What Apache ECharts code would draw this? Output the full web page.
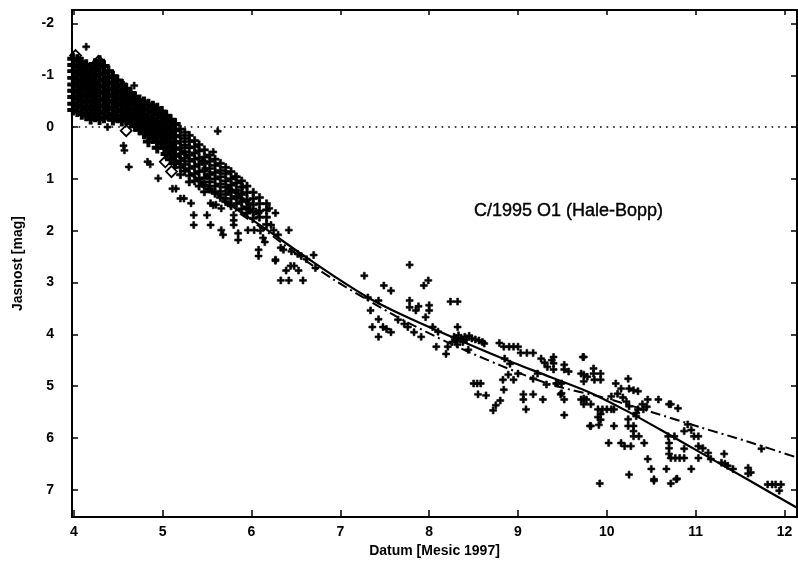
<!DOCTYPE html>
<html>
<head>
<meta charset="utf-8">
<script src="https://cdn.jsdelivr.net/npm/echarts@6/dist/echarts.min.js"></script>
<style>
html,body{margin:0;padding:0;background:#fff;}
#chart{width:798px;height:563px;}
</style>
</head>
<body>
<div id="chart"></div>
<script>
// ---- Data ----
const xTicks = [4, 5, 6, 7, 8, 9, 10, 11, 12];
const yTicks = [-2, -1, 0, 1, 2, 3, 4, 5, 6, 7];

// dense April observations (date in months of 1997, magnitude), listed by date column
const blobColumns = [
  [3.99, [-1.32,-1.2,-1.08,-0.95,-0.82,-0.7,-0.58,-0.45,-0.33]],
  [4.04, [-1.3,-1.18,-1.05,-0.92,-0.8,-0.68,-0.55,-0.42,-0.3]],
  [4.09, [-1.25,-1.12,-1.0,-0.88,-0.75,-0.62,-0.5,-0.38,-0.25]],
  [4.14, [-1.2,-1.08,-0.96,-0.84,-0.72,-0.6,-0.48,-0.35,-0.22]],
  [4.19, [-1.15,-1.02,-0.9,-0.78,-0.65,-0.52,-0.4,-0.28,-0.16]],
  [4.24, [-1.22,-1.1,-0.98,-0.85,-0.72,-0.6,-0.47,-0.35,-0.2]],
  [4.29, [-1.28,-1.15,-1.02,-0.9,-0.78,-0.65,-0.52,-0.4,-0.27,-0.15]],
  [4.34, [-1.18,-1.05,-0.92,-0.8,-0.68,-0.55,-0.42,-0.3,-0.18]],
  [4.39, [-1.08,-0.96,-0.84,-0.72,-0.6,-0.48,-0.35,-0.22]],
  [4.44, [-0.98,-0.86,-0.74,-0.62,-0.5,-0.38,-0.25,-0.14]],
  [4.49, [-0.9,-0.78,-0.66,-0.54,-0.42,-0.3,-0.18]],
  [4.54, [-0.82,-0.7,-0.58,-0.46,-0.34,-0.22,-0.12]],
  [4.59, [-0.74,-0.62,-0.5,-0.38,-0.26,-0.14]],
  [4.64, [-0.66,-0.55,-0.44,-0.32,-0.2,-0.08]],
  [4.69, [-0.58,-0.47,-0.36,-0.25,-0.14,-0.02]],
  [4.74, [-0.52,-0.41,-0.3,-0.18,-0.06,0.05]],
  [4.79, [-0.48,-0.36,-0.24,-0.12,0.0,0.12]],
  [4.84, [-0.44,-0.32,-0.2,-0.08,0.04,0.16,0.28]],
  [4.89, [-0.4,-0.28,-0.15,-0.02,0.1,0.22]],
  [4.94, [-0.36,-0.24,-0.1,0.02,0.15,0.28,0.4]],
  [4.99, [-0.3,-0.18,-0.05,0.08,0.2,0.32]],
  [5.04, [-0.22,-0.1,0.03,0.16,0.28,0.4,0.52]],
  [5.09, [-0.14,-0.02,0.1,0.22,0.35,0.48,0.62]],
  [5.14, [-0.06,0.06,0.18,0.3,0.42,0.55,0.7]]
];
// May observations along the band
const bandColumns = [
  [5.20, [0.04,0.16,0.28,0.4,0.52,0.65,0.78,0.92]],
  [5.25, [0.1,0.22,0.35,0.48,0.6,0.72,0.85]],
  [5.30, [0.16,0.28,0.4,0.54,0.66,0.8,0.94,1.06]],
  [5.36, [0.26,0.38,0.5,0.62,0.76,0.9,1.04]],
  [5.41, [0.34,0.46,0.6,0.72,0.86,1.0,1.14]],
  [5.47, [0.44,0.58,0.7,0.84,0.98,1.12,1.25]],
  [5.53, [0.54,0.66,0.8,0.92,1.06,1.2]],
  [5.59, [0.62,0.74,0.88,1.0,1.14,1.28]],
  [5.65, [0.7,0.84,0.96,1.1,1.24,1.36]],
  [5.71, [0.78,0.9,1.04,1.16,1.3,1.44]],
  [5.77, [0.86,1.0,1.12,1.26,1.38,1.52]],
  [5.83, [0.96,1.08,1.22,1.34,1.48]],
  [5.89, [1.04,1.16,1.3,1.44,1.58]],
  [5.95, [1.14,1.26,1.4,1.54,1.66]],
  [6.02, [1.26,1.38,1.5,1.64,1.76]],
  [6.09, [1.36,1.48,1.62,1.74]],
  [6.17, [1.48,1.6,1.74,1.88]]
];

const scatterPoints = [
  [4.14,-1.55],[4.56,-0.82],[4.68,-0.8],[4.38,0.0],[4.56,0.36],[4.57,0.45],[4.62,0.77],
  [4.83,0.67],[4.86,0.72],[4.95,0.99],[5.62,0.08],[5.57,0.48],[5.82,0.96],[5.9,1.15],
  [5.11,1.19],[5.2,1.38],[5.32,1.47],[5.35,1.7],[5.57,1.51],[5.75,1.19],[5.88,1.38],
  [5.96,1.57],[6.08,1.66],[5.54,1.89],[5.35,1.89],[5.15,1.19],[5.24,1.38],
  [5.45,0.65],[5.48,0.8],[5.5,0.95],[5.45,1.1],[5.52,1.19],[5.77,1.22],[5.85,1.28],
  [5.54,1.47],[5.6,1.5],[5.66,1.57],[5.97,1.47],[5.97,1.6],[6.05,1.63],[6.2,1.57],
  [6.27,1.66],[5.5,1.7],[5.8,1.7],[5.8,1.8],[5.8,1.89],[5.66,1.99],[5.68,2.08],
  [5.85,2.05],[5.85,2.18],[5.96,1.99],[6.03,1.99],[6.22,1.89],[6.25,1.99],[6.42,1.99],
  [6.3,2.08],[6.08,2.37],[6.08,2.49],[6.27,2.58],[6.39,2.77],[6.48,2.68],[6.53,2.77],
  [6.7,2.47],[6.56,2.49],[6.33,2.96],[6.42,2.96],[6.58,2.96],[6.36,2.37],[6.45,2.4],
  [6.52,2.45],[6.13,2.14],[6.15,2.22],[6.1,2.0],[6.27,2.56],[6.72,2.72],[6.44,2.68],
  [6.33,2.33],[6.62,2.55],
  [7.27,2.87],[7.49,3.06],[7.57,3.16],[7.78,2.66],[7.99,2.96],[7.94,3.06],
  [7.78,3.35],[7.78,3.48],[7.85,3.54],[7.88,3.46],[8.0,3.44],[8.0,3.54],[8.24,3.37],
  [8.32,3.37],[7.96,3.67],[8.04,3.86],[7.43,3.35],[7.34,3.54],[7.31,3.29],[7.43,3.71],
  [7.36,3.86],[7.48,3.86],[7.52,3.9],[7.57,3.96],[7.43,4.05],[7.76,3.86],[7.83,3.96],
  [7.91,4.05],[8.08,4.24],[8.19,4.38],[8.21,4.24],[7.65,3.72],[7.72,3.8],[8.1,3.95],
  [8.28,4.05],[8.3,4.12],[8.33,4.02],[8.36,4.08],[8.38,4.15],[8.4,4.05],[8.42,4.1],
  [8.45,4.03],[8.48,4.08],[8.52,4.1],[8.56,4.12],[8.6,4.15],[8.62,4.18],[8.32,4.2],
  [8.26,4.15],[8.32,3.86],[8.44,4.3],[8.79,4.17],[8.84,4.24],[8.9,4.24],[8.95,4.24],
  [9.0,4.24],[9.03,4.36],[9.1,4.36],[9.17,4.36],[8.85,4.47],[8.91,4.57],[9.26,4.47],
  [9.3,4.55],[9.33,4.63],[9.38,4.5],[9.52,4.59],[9.74,4.44],[9.71,4.76],[9.78,4.82],
  [9.86,4.88],[9.57,4.72],[9.0,4.76],[8.89,4.78],[8.95,4.88],[8.83,4.88],[9.17,4.86],
  [9.22,4.76],[9.32,4.97],[9.45,4.95],[8.5,4.95],[8.54,4.95],[8.58,4.95],[8.55,5.16],
  [8.64,5.18],[8.84,5.07],[9.06,5.16],[9.06,5.26],[9.17,5.16],[9.28,5.26],[9.48,5.16],
  [9.52,5.26],[8.8,5.28],[8.75,5.37],[8.72,5.47],[9.09,5.45],[9.52,5.56],[9.71,5.26],
  [9.77,5.26],[9.82,5.35],[9.81,5.77],[9.9,5.6],[9.91,5.75],
  [9.4,4.44],[9.4,4.56],[9.4,4.68],[9.52,4.68],[9.73,4.44],[9.85,4.66],[9.85,4.76],
  [9.74,4.78],[9.74,4.91],[9.93,4.76],[9.93,4.88],[10.24,4.86],[10.1,4.95],[10.16,5.05],
  [10.25,5.05],[10.3,5.08],[10.35,5.1],[10.46,5.26],[10.58,5.26],[10.72,5.35],[9.43,4.95],
  [9.49,4.95],[9.49,5.14],[9.74,5.24],[9.74,5.35],[9.9,5.45],[9.95,5.45],
  [10.0,5.45],[10.05,5.45],[10.08,5.45],[9.93,5.54],[9.93,5.65],[9.82,5.77],
  [10.08,5.77],[10.02,6.1],[10.16,6.1],[10.2,6.16],[10.27,6.16],[10.24,5.64],[10.24,5.77],
  [10.3,5.77],[10.3,5.87],[10.3,5.97],[10.36,5.97],[10.33,5.52],[10.33,5.58],[10.25,5.39],
  [10.35,5.45],[10.41,5.45],[10.46,6.41],[10.5,6.6],[10.53,6.8],[10.67,6.6],[10.72,6.88],
  [10.79,6.79],[9.92,6.88],[10.25,6.71],[10.42,6.1],[10.69,5.97],[10.76,5.97],[10.7,6.1],
  [10.7,6.2],[10.7,6.31],[10.72,6.39],[10.77,6.39],[10.82,6.39],[10.87,6.39],[10.87,6.21],
  [10.95,6.6],[11.03,6.39],[11.08,6.2],[11.14,6.29],[11.03,6.16],[11.17,6.41],[11.32,6.31],
  [11.29,6.48],[11.33,6.5],[11.36,6.54],[11.42,6.6],[11.59,6.58],[11.59,6.69],[11.62,6.67],
  [10.91,5.74],[10.95,5.85],[10.98,5.97],[11.03,5.97],[10.87,5.87],[10.7,5.35],[10.8,5.43],
  [11.81,6.9],[11.86,6.9],[11.9,6.9],[11.96,6.9],[11.94,7.02],[11.74,6.21],[10.53,6.83],
  [10.78,6.8],[10.12,5.15],[10.18,5.22],[10.22,5.3],[10.05,5.2],[10.4,5.35],[10.45,5.4]
];

const diamondPoints = [
  [4.02,-1.38],[4.28,-1.27],[4.64,-0.57],[4.9,-0.34],[4.59,0.07],[5.03,0.67],[5.1,0.86],
  [5.22,0.55],[4.05,-0.9],[4.45,-0.55],[4.75,-0.25],[5.0,0.1],[5.15,0.35]
];

const fitSolid = [
  [5.0,0.42],[5.2,0.72],[5.43,1.05],[5.77,1.51],[6.18,1.99],[6.56,2.45],[6.93,2.88],
  [7.3,3.28],[7.7,3.63],[8.25,4.05],[8.8,4.45],[9.37,4.83],[9.8,5.12],[10.2,5.46],
  [10.6,5.84],[11.06,6.29],[11.6,6.82],[12.14,7.35]
];
const fitDashDot = [
  [5.0,0.45],[5.43,1.08],[5.77,1.55],[6.18,2.03],[6.56,2.52],[6.93,2.95],[7.3,3.33],
  [7.7,3.72],[8.25,4.19],[8.8,4.6],[9.37,4.97],[10.0,5.24],[10.5,5.5],[11.06,5.8],
  [11.6,6.08],[12.14,6.38]
];
const zeroLine = [[3.98,0],[12.14,0]];

function flatten(cols) {
  const out = [];
  cols.forEach(function (c) { c[1].forEach(function (m) { out.push([c[0], m]); }); });
  return out;
}
const blobPoints = flatten(blobColumns);
const bandPoints = flatten(bandColumns);

// ---- Chart ----
const PLUS = 'path://M2.9,0H5.1V2.9H8V5.1H5.1V8H2.9V5.1H0V2.9H2.9Z';
const FONT = 'Liberation Sans, Arial, sans-serif';
const X_MIN = 3.98, X_MAX = 12.14, Y_MIN = -2.26, Y_MAX = 7.53;

const chart = echarts.init(document.getElementById('chart'), null, {renderer: 'canvas'});
const axisLine = {show: true, onZero: false, lineStyle: {color: '#000', width: 2}};
const plusStyle = {color: '#000', borderColor: '#000', borderWidth: 0.6, opacity: 1};
chart.setOption({
  animation: false,
  backgroundColor: '#fff',
  grid: {left: 72, right: 1, top: 10, bottom: 41, containLabel: false},
  title: {
    text: 'C/1995 O1 (Hale-Bopp)', left: 474, top: 202, padding: 0,
    textStyle: {fontFamily: FONT, fontSize: 18, fontWeight: 'normal', color: '#000',
      textBorderColor: '#000', textBorderWidth: 0.4}
  },
  xAxis: [{
    type: 'value', min: X_MIN, max: X_MAX, position: 'bottom',
    axisLine: axisLine,
    axisTick: {show: true, inside: true, length: 7, customValues: xTicks, lineStyle: {color: '#000', width: 1.5}},
    axisLabel: {customValues: xTicks, margin: 8, fontFamily: FONT, fontSize: 14, fontWeight: 'bold', color: '#000'},
    splitLine: {show: false},
    name: 'Datum [Mesic 1997]', nameLocation: 'middle', nameGap: 23,
    nameTextStyle: {fontFamily: FONT, fontSize: 14, fontWeight: 'bold', color: '#000'}
  }, {
    type: 'value', min: X_MIN, max: X_MAX, position: 'top',
    axisLine: axisLine,
    axisTick: {show: true, inside: true, length: 5, customValues: xTicks, lineStyle: {color: '#000', width: 1.5}},
    axisLabel: {show: false}, splitLine: {show: false}
  }],
  yAxis: [{
    type: 'value', min: Y_MIN, max: Y_MAX, inverse: true, position: 'left',
    axisLine: axisLine,
    axisTick: {show: true, inside: true, length: 6, customValues: yTicks, lineStyle: {color: '#000', width: 1.5}},
    axisLabel: {customValues: yTicks, margin: 18, fontFamily: FONT, fontSize: 14, fontWeight: 'bold', color: '#000'},
    splitLine: {show: false},
    name: 'Jasnost [mag]', nameLocation: 'middle', nameGap: 47, nameRotate: 90,
    nameTextStyle: {fontFamily: FONT, fontSize: 14, fontWeight: 'bold', color: '#000'}
  }, {
    type: 'value', min: Y_MIN, max: Y_MAX, inverse: true, position: 'right',
    axisLine: axisLine,
    axisTick: {show: true, inside: true, length: 6, customValues: yTicks, lineStyle: {color: '#000', width: 1.5}},
    axisLabel: {show: false}, splitLine: {show: false}
  }],
  series: [
    {type: 'line', data: zeroLine, symbol: 'none', silent: true,
     lineStyle: {color: '#000', width: 1.6, type: [1.6, 5]}},
    {type: 'scatter', data: blobPoints, symbol: PLUS, symbolSize: 10,
     itemStyle: {color: '#000', borderColor: '#000', borderWidth: 1.2, opacity: 1}},
    {type: 'scatter', data: bandPoints, symbol: PLUS, symbolSize: 8, itemStyle: plusStyle},
    {type: 'scatter', data: scatterPoints, symbol: PLUS, symbolSize: 7, itemStyle: plusStyle},
    {type: 'scatter', data: diamondPoints, symbol: 'diamond', symbolSize: 11,
     itemStyle: {color: 'rgba(255,255,255,0)', borderColor: '#000', borderWidth: 1.8, opacity: 1}},
    {type: 'line', data: fitDashDot, symbol: 'none', smooth: 0.3,
     lineStyle: {color: '#000', width: 2, type: [10, 4, 2, 4]}},
    {type: 'line', data: fitSolid, symbol: 'none', smooth: 0.3,
     lineStyle: {color: '#000', width: 2.2}}
  ]
});
</script>
</body>
</html>
